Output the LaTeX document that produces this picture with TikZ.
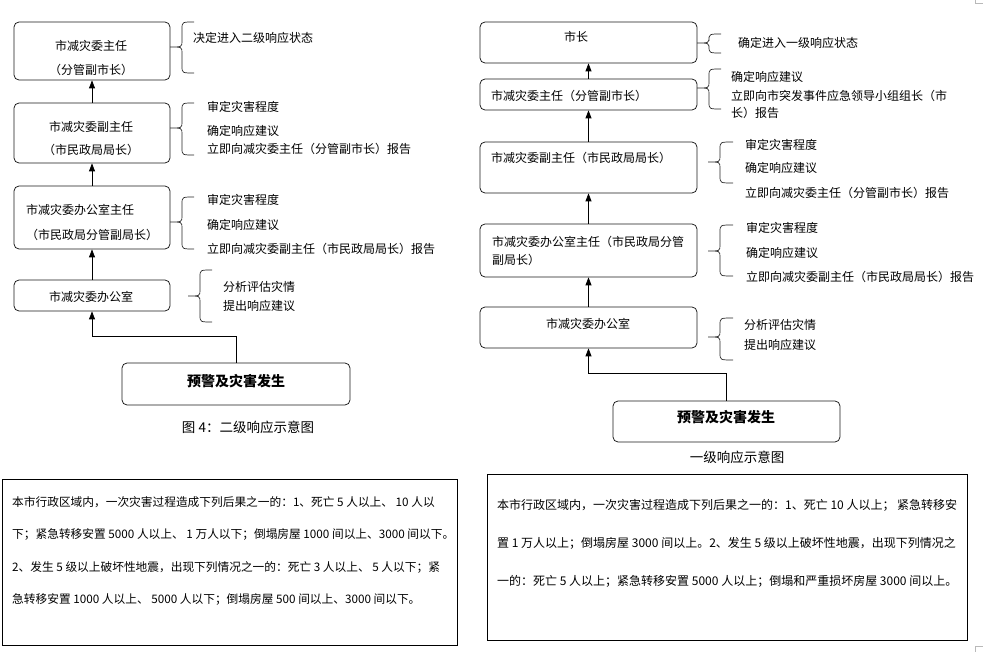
\documentclass[tikz,border=0pt]{standalone}
\usepackage{fontspec}
\setmainfont{Noto Sans CJK SC}
\usetikzlibrary{arrows.meta}
\newcommand\cbrace[6]{% #1 xe, #2 xv, #3 xt, #4 ytop, #5 ybot, #6 ytip
  \draw[bracestyle] (#1,#4) .. controls (#2,#4) .. (#2,#4+7)
    -- (#2,#6-6) .. controls (#2,#6) .. (#3,#6)
    .. controls (#2,#6) .. (#2,#6+6)
    -- (#2,#5-7) .. controls (#2,#5) .. (#1,#5);}
\begin{document}
\begin{tikzpicture}[x=1pt,y=-1pt,
  box/.style={draw=black!90, line width=0.75pt, rounded corners=5pt, inner sep=0pt},
  sbox/.style={draw=black, line width=0.8pt, inner sep=0pt},
  txt/.style={inner sep=0pt, font=\fontsize{12pt}{14pt}\selectfont},
  ntxt/.style={inner sep=0pt, font=\fontsize{11.7pt}{14pt}\selectfont},
  btxt/.style={inner sep=0pt, font=\fontsize{14pt}{16pt}\selectfont\bfseries},
  captxt/.style={inner sep=0pt, font=\fontsize{13.5pt}{16pt}\selectfont},
  arr/.style={-{Triangle[width=6pt,length=8pt]}, line width=0.75pt},
  bracestyle/.style={line width=0.7pt, black!85}]
\useasboundingbox (0,0) rectangle (983,652);

% ---------- left column ----------
\node[box, minimum width=156pt, minimum height=58pt] (A1) at (92,51) {};
\node[box, minimum width=156pt, minimum height=60pt] (A2) at (92,133) {};
\node[box, minimum width=156pt, minimum height=63pt] (A3) at (92,217.5) {};
\node[box, minimum width=156pt, minimum height=31pt] (A4) at (92,295.5) {};
\node[box, minimum width=228pt, minimum height=42pt] (E1) at (236,384) {};

\node[txt] (tA1a) at (91,46) {市减灾委主任};
\node[txt] (tA1b) at (91,70) {（分管副市长）};
\node[txt] (tA2a) at (91,127) {市减灾委副主任};
\node[txt] (tA2b) at (91,150) {（市民政局局长）};
\node[txt,anchor=west] (tA3a) at (26,210) {市减灾委办公室主任};
\node[txt,anchor=west] (tA3b) at (26,235) {（市民政局分管副局长）};
\node[txt] (tA4) at (91,297) {市减灾委办公室};
\node[btxt] (tE1) at (236,381) {预警及灾害发生};
\node[captxt] (capL) at (248,427) {图 4：二级响应示意图};

\draw[arr] (A2.north) -- (A1.south);
\draw[arr] (A3.north) -- (A2.south);
\draw[arr] (A4.north) -- (A3.south);
\draw[arr] (E1.north) -- ([yshift=26pt]E1.north) -| (A4.south);

\cbrace{194}{182}{170}{22}{73}{47}
\cbrace{194}{182}{170}{103}{155}{128}
\cbrace{194}{182}{170}{197}{249}{222}
\cbrace{212}{200}{188}{270}{322}{296}

\node[txt,anchor=west] (bA1) at (193,38) {决定进入二级响应状态};
\node[txt,anchor=west] (bA2a) at (207,107) {审定灾害程度};
\node[txt,anchor=west] (bA2b) at (207,131) {确定响应建议};
\node[txt,anchor=west] (bA2c) at (207,149) {立即向减灾委主任（分管副市长）报告};
\node[txt,anchor=west] (bA3a) at (207,200) {审定灾害程度};
\node[txt,anchor=west] (bA3b) at (207,225) {确定响应建议};
\node[txt,anchor=west] (bA3c) at (207,249) {立即向减灾委副主任（市民政局局长）报告};
\node[txt,anchor=west] (bA4a) at (223,287) {分析评估灾情};
\node[txt,anchor=west] (bA4b) at (223,306) {提出响应建议};

% ---------- right column ----------
\node[box, minimum width=217pt, minimum height=41pt] (B1) at (588.5,42.5) {};
\node[box, minimum width=217pt, minimum height=31pt] (B2) at (588.5,94.5) {};
\node[box, minimum width=217pt, minimum height=51pt] (B3) at (588.5,167.5) {};
\node[box, minimum width=217pt, minimum height=53pt] (B4) at (588.5,250.5) {};
\node[box, minimum width=217pt, minimum height=41pt] (B5) at (588.5,327.5) {};
\node[box, minimum width=227pt, minimum height=41pt] (E2) at (726.5,421.5) {};

\node[txt] (tB1) at (576,37) {市长};
\node[txt,anchor=west] (tB2) at (491,96) {市减灾委主任（分管副市长）};
\node[txt,anchor=west] (tB3) at (491,158) {市减灾委副主任（市民政局局长）};
\node[txt,anchor=west] (tB4a) at (492,242) {市减灾委办公室主任（市民政局分管};
\node[txt,anchor=west] (tB4b) at (492,260) {副局长）};
\node[txt] (tB5) at (588,324) {市减灾委办公室};
\node[btxt] (tE2) at (726,417) {预警及灾害发生};
\node[captxt] (capR) at (737,457) {一级响应示意图};

\draw[arr] (B2.north) -- (B1.south);
\draw[arr] (B3.north) -- (B2.south);
\draw[arr] (B4.north) -- (B3.south);
\draw[arr] (B5.north) -- (B4.south);
\draw[arr] (E2.north) -- ([yshift=27pt]E2.north) -| (B5.south);

\cbrace{721}{709}{697}{34}{53}{43}
\cbrace{721}{709}{697}{69}{109}{88}
\cbrace{733}{720}{708}{142}{183}{162}
\cbrace{733}{720}{708}{225}{276}{251}
\cbrace{733}{720}{708}{318}{360}{337}

\node[txt,anchor=west] (bB1) at (738,43) {确定进入一级响应状态};
\node[txt,anchor=west] (bB2a) at (731,77) {确定响应建议};
\node[txt,anchor=west] (bB2b) at (731,96) {立即向市突发事件应急领导小组组长（市};
\node[txt,anchor=west] (bB2c) at (731,113) {长）报告};
\node[txt,anchor=west] (bB3a) at (745,145) {审定灾害程度};
\node[txt,anchor=west] (bB3b) at (745,168) {确定响应建议};
\node[txt,anchor=west] (bB3c) at (745,193) {立即向减灾委主任（分管副市长）报告};
\node[txt,anchor=west] (bB4a) at (746,228) {审定灾害程度};
\node[txt,anchor=west] (bB4b) at (746,253) {确定响应建议};
\node[txt,anchor=west] (bB4c) at (746,277) {立即向减灾委副主任（市民政局局长）报告};
\node[txt,anchor=west] (bB5a) at (744,325) {分析评估灾情};
\node[txt,anchor=west] (bB5b) at (744,345) {提出响应建议};

% ---------- bottom text boxes ----------
\node[sbox, minimum width=455pt, minimum height=166pt] (DL) at (229.5,562) {};
\node[ntxt,anchor=west] (dL1) at (12,502) {本市行政区域内，一次灾害过程造成下列后果之一的：1、死亡 5 人以上、 10 人以};
\node[ntxt,anchor=west] (dL2) at (12,535) {下；紧急转移安置 5000 人以上、 1 万人以下；倒塌房屋 1000 间以上、3000 间以下。};
\node[ntxt,anchor=west] (dL3) at (12,567) {2、发生 5 级以上破坏性地震，出现下列情况之一的：死亡 3 人以上、 5 人以下；紧};
\node[ntxt,anchor=west] (dL4) at (12,600) {急转移安置 1000 人以上、 5000 人以下；倒塌房屋 500 间以上、3000 间以下。};

\node[sbox, minimum width=480pt, minimum height=166pt] (DR) at (727,557) {};
\node[txt,anchor=west] (dR1) at (497,505) {本市行政区域内，一次灾害过程造成下列后果之一的：1、死亡 10 人以上； 紧急转移安};
\node[txt,anchor=west] (dR2) at (497,543) {置 1 万人以上；倒塌房屋 3000 间以上。2、发生 5 级以上破坏性地震，出现下列情况之};
\node[txt,anchor=west] (dR3) at (497,581) {一的：死亡 5 人以上；紧急转移安置 5000 人以上；倒塌和严重损坏房屋 3000 间以上。};

% page corner marks
\draw[gray!55, line width=0.6pt] (975,0) -- (975,3) -- (983,3);
\draw[gray!55, line width=0.6pt] (983,646) -- (975,646) -- (975,652);
\end{tikzpicture}
\end{document}
